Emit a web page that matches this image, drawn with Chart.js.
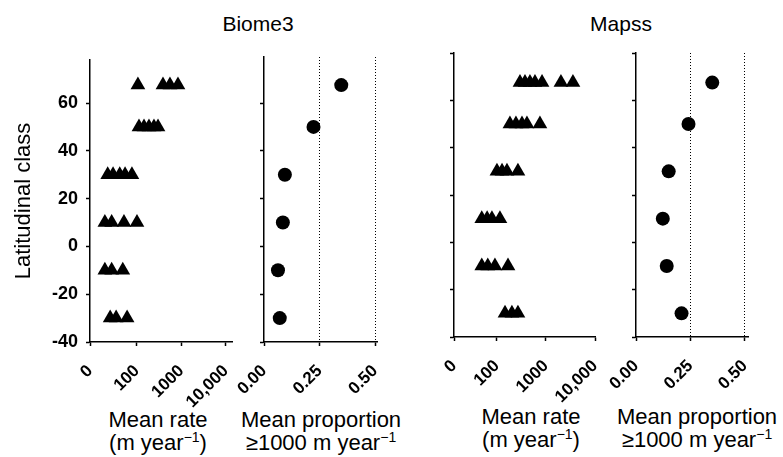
<!DOCTYPE html>
<html><head><meta charset="utf-8">
<script src="https://cdn.jsdelivr.net/npm/chart.js@4/dist/chart.umd.min.js"></script>
<style>
html,body{margin:0;padding:0;background:#fff;}
#wrap{position:relative;width:783px;height:457px;overflow:hidden;font-family:"Liberation Sans",Arial,sans-serif;background:#fff;}
canvas{position:absolute;left:0;top:0;}
.ttl{position:absolute;font-size:21px;line-height:24px;color:#000;transform:translateX(-50%);white-space:nowrap;}
.xt{position:absolute;font-size:22px;line-height:23px;color:#000;transform:translateX(-50%);white-space:nowrap;text-align:center;}
.xt .sp{font-size:14px;position:relative;top:-8px;}
</style></head>
<body><div id="wrap">
<div class="ttl" style="left:258px;top:12px">Biome3</div>
<div class="ttl" style="left:621px;top:12px">Mapss</div>
<div class="xt" style="left:158px;top:408px">Mean rate<br>(m year<span class="sp">−1</span>)</div>
<div class="xt" style="left:321px;top:408px">Mean proportion<br>≥1000 m year<span class="sp">−1</span></div>
<div class="xt" style="left:531px;top:405px">Mean rate<br>(m year<span class="sp">−1</span>)</div>
<div class="xt" style="left:697px;top:405px">Mean proportion<br>≥1000 m year<span class="sp">−1</span></div>
<canvas id="c1" width="783" height="457" style="width:783px;height:457px"></canvas>
<canvas id="c2" width="783" height="457" style="width:783px;height:457px"></canvas>
<canvas id="c3" width="783" height="457" style="width:783px;height:457px"></canvas>
<canvas id="c4" width="783" height="457" style="width:783px;height:457px"></canvas>
</div>
<script>
// ---- data ----
const latClasses = [67.5, 50, 30, 10, -10, -30];
const rateTickValues = [100, 1000, 10000];
const rateTickLabels = ['0', '100', '1000', '10,000'];
const propTickLabels = ['0.00', '0.25', '0.50'];
const biome3Rates = [
  [105, 384, 551, 834],
  [111, 144, 186, 241, 297],
  [22, 29, 41, 54, 77],
  [19, 27, 51, 100],
  [19, 27, 48],
  [25, 34, 60]
];
const biome3Prop = [0.348, 0.223, 0.094, 0.085, 0.063, 0.071];
const mapssRates = [
  [295, 373, 471, 596, 831, 2020, 3550],
  [184, 244, 324, 409, 753],
  [100, 127, 160, 268],
  [49, 63, 79, 115],
  [49, 65, 91, 168],
  [146, 202, 268]
];
const mapssProp = [0.35, 0.241, 0.15, 0.123, 0.141, 0.209];

// ---- helpers ----
Chart.defaults.font.family = '"Liberation Sans", Arial, Helvetica, sans-serif';
Chart.defaults.color = '#000';

const ratePoints = rows => rows.flatMap((vals, i) => vals.map(v => ({x: v, y: latClasses[i]})));
const propPoints = vals => vals.map((v, i) => ({x: v, y: latClasses[i]}));

function yScale(p) {
  return {
    type: 'linear', min: -40, max: p.yMax,
    afterFit: s => { s.width = p.yW; },
    border: {display: true, color: '#000', width: 1.5},
    grid: {drawOnChartArea: false, drawTicks: true, tickLength: 4, tickColor: '#000', tickWidth: 1.5},
    ticks: {stepSize: 20, includeBounds: false, display: !!p.yLabels, padding: 8,
            font: {size: 18, weight: 'bold'}, color: '#000', callback: v => String(v)},
    title: {display: !!p.yLabels, text: 'Latitudinal class', font: {size: 22}, color: '#000',
            padding: {top: 11, bottom: 0}}
  };
}

function makeChart(id, p, dataset, xScale) {
  return new Chart(document.getElementById(id), {
    type: 'scatter',
    data: {datasets: [dataset]},
    options: {
      responsive: false, animation: false, events: [],
      layout: {padding: {left: p.left - p.yW, top: p.top, right: 783 - p.right, bottom: 0}},
      plugins: {legend: {display: false}, tooltip: {enabled: false}},
      scales: {x: xScale, y: yScale(p)}
    }
  });
}

function rateAxis(p) {
  return {
    type: 'logarithmic', min: p.xMin, max: p.xMax, bounds: 'data',
    afterBuildTicks: s => { s.ticks = [s.min, ...rateTickValues].map(v => ({value: v})); },
    afterFit: s => { s.height = 457 - p.bottom; },
    border: {display: true, color: '#000', width: 1.5},
    grid: {drawOnChartArea: false, drawTicks: true, tickLength: 4, tickColor: '#000', tickWidth: 1.5},
    ticks: {minRotation: 45, maxRotation: 45, autoSkip: false, font: {size: 17, weight: 'bold'}, color: '#000',
            padding: 15, callback: (v, i) => rateTickLabels[i]}
  };
}

function propAxis(p) {
  return {
    type: 'linear', min: 0, max: p.xMax,
    afterFit: s => { s.height = 457 - p.bottom; },
    border: {display: true, color: '#000', width: 1.5, dash: [1, 2]},
    grid: {drawOnChartArea: true, drawTicks: true, tickLength: 4, tickColor: '#000', tickWidth: 1.5,
           lineWidth: 1, color: c => (c.tick && c.tick.value > 0.01) ? '#000' : 'rgba(0,0,0,0)'},
    ticks: {stepSize: 0.25, includeBounds: false, minRotation: 45, maxRotation: 45, autoSkip: false,
            font: {size: 17, weight: 'bold'}, color: '#000', padding: 15, callback: (v, i) => propTickLabels[i]}
  };
}

const triDS = rows => ({data: ratePoints(rows), pointStyle: 'triangle', pointRadius: 8.5,
  backgroundColor: '#000', borderColor: '#000', borderWidth: 0, clip: false});
const dotDS = vals => ({data: propPoints(vals), pointStyle: 'circle', pointRadius: 7,
  backgroundColor: '#000', borderColor: '#000', borderWidth: 0, clip: false});

// Biome3
const p1 = {left: 90, right: 232, top: 60, bottom: 342, yW: 90, yMax: 78, yLabels: true, xMin: 8.8, xMax: 13650};
const p2 = {left: 264, right: 377, top: 57, bottom: 342, yW: 20, yMax: 79.25, xMax: 0.509};
// Mapss
const p3 = {left: 454, right: 595, top: 53, bottom: 337, yW: 20, yMax: 80, xMin: 13.3, xMax: 10000};
const p4 = {left: 636, right: 748, top: 53, bottom: 337, yW: 20, yMax: 80, xMax: 0.514};

makeChart('c1', p1, triDS(biome3Rates), rateAxis(p1));
makeChart('c2', p2, dotDS(biome3Prop), propAxis(p2));
makeChart('c3', p3, triDS(mapssRates), rateAxis(p3));
makeChart('c4', p4, dotDS(mapssProp), propAxis(p4));
</script>
</body></html>
